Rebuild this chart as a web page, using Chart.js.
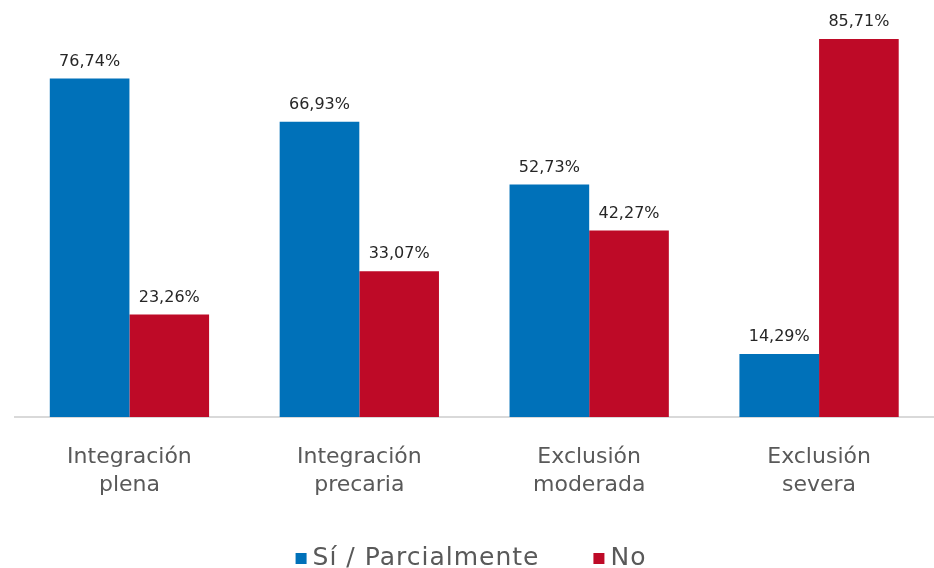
<!DOCTYPE html>
<html>
<head>
<meta charset="utf-8">
<script src="https://cdn.jsdelivr.net/npm/chart.js"></script>
<style>
  html, body { margin: 0; padding: 0; background: #fff; }
  #wrap { width: 934px; height: 568px; }
</style>
</head>
<body>
<div id="wrap"><canvas id="chart"></canvas></div>
<script>
const categories = [
  ['Integración', 'plena'],
  ['Integración', 'precaria'],
  ['Exclusión', 'moderada'],
  ['Exclusión', 'severa']
];
const siParcial = [76.74, 66.93, 52.73, 14.29];
const no = [23.26, 33.07, 42.27, 85.71];

const FONT = "'DejaVu Sans', sans-serif";

// labels above each bar, "76,74%" style
const valueLabels = {
  id: 'valueLabels',
  afterDatasetsDraw(chart) {
    const ctx = chart.ctx;
    ctx.save();
    ctx.font = '16px ' + FONT;
    ctx.fillStyle = '#262626';
    ctx.textAlign = 'center';
    ctx.textBaseline = 'bottom';
    chart.data.datasets.forEach((ds, i) => {
      chart.getDatasetMeta(i).data.forEach((bar, j) => {
        const txt = ds.data[j].toFixed(2).replace('.', ',') + '%';
        ctx.fillText(txt, bar.x, bar.y - 9);
      });
    });
    ctx.restore();
  }
};

// legend at the bottom: small square, short gap, text
const bottomLegend = {
  id: 'bottomLegend',
  afterDraw(chart) {
    const ctx = chart.ctx;
    const box = 11, gap = 6, between = 54;
    ctx.save();
    ctx.font = '25px ' + FONT;
    ctx.letterSpacing = '1px';
    const items = chart.data.datasets.map(ds => ({
      text: ds.label, color: ds.backgroundColor, w: ctx.measureText(ds.label).width
    }));
    let total = 0;
    items.forEach((it, i) => { total += box + gap + it.w + (i ? between : 0); });
    let x = chart.width / 2 + 4 - total / 2;
    const base = 565;
    ctx.textBaseline = 'alphabetic';
    ctx.textAlign = 'left';
    items.forEach(it => {
      ctx.fillStyle = it.color;
      ctx.fillRect(x, base - box - 1, box, box);
      ctx.fillStyle = '#595959';
      ctx.fillText(it.text, x + box + gap, base);
      x += box + gap + it.w + between;
    });
    ctx.restore();
  }
};

new Chart(document.getElementById('chart'), {
  type: 'bar',
  data: {
    labels: categories,
    datasets: [
      { label: 'Sí / Parcialmente', data: siParcial, backgroundColor: '#0071B9' },
      { label: 'No', data: no, backgroundColor: '#BE0A27' }
    ]
  },
  options: {
    responsive: true,
    maintainAspectRatio: false,
    animation: false,
    layout: { padding: { left: 14.5, right: -4.5, top: 20, bottom: 51 } },
    datasets: { bar: { categoryPercentage: 0.693, barPercentage: 1 } },
    scales: {
      y: { display: false, min: 0, max: 90 },
      x: {
        grid: { display: false },
        border: { display: true, color: '#d9d9d9', width: 2 },
        ticks: {
          color: '#595959',
          font: { family: FONT, size: 22, lineHeight: 1.27 },
          padding: 18
        }
      }
    },
    plugins: {
      tooltip: { enabled: false },
      legend: { display: false }
    }
  },
  plugins: [valueLabels, bottomLegend]
});
</script>
</body>
</html>
